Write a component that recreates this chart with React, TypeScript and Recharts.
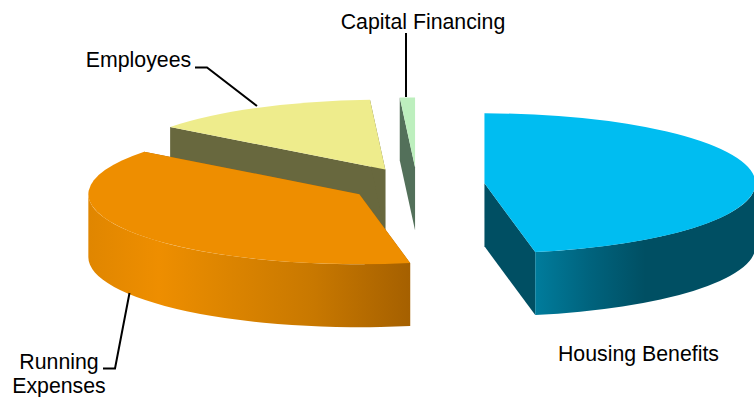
import React from 'react'
import { PieChart, Pie } from 'recharts'

const categories = ['Capital Financing', 'Employees', 'Running Expenses', 'Housing Benefits']
const shares = [0.9, 13.7, 38.4, 47]

const topColors = ['#BDEFBE', '#EEEC8C', '#EE8E00', '#00BDF1']
const sideColors = ['#53705A', '#68683E', '#A66000', '#004F63']

// outer wall shading, left to right across each visible wall
const orangeWall = [
  ['0%', '#E08600'],
  ['22%', '#EE8E00'],
  ['40%', '#DF8600'],
  ['70%', '#C87800'],
  ['100%', '#A56000'],
]
const blueWall = [
  ['0%', '#007C9C'],
  ['25%', '#00637D'],
  ['50%', '#004F63'],
  ['100%', '#004F63'],
]

// text block and leader for each slice, same order as categories
const labelLines = [['Capital Financing'], ['Employees'], ['Running', 'Expenses'], ['Housing Benefits']]
const labelX = [423, 138.5, 59, 638.5]
const labelY = [29, 67, 369, 361]
const leaders = [
  '406,33 406,97',
  '195,67.5 207,67.5 257,106',
  '103,368.5 115,368.5 129.5,293',
  '',
]

const WIDTH = 754
const HEIGHT = 397
const TILT = 70 / 271
const DEPTH = 63
const EXPLODE = 0.25
const RAD = Math.PI / 180

const pieData = categories.map((name, i) => ({ name, value: shares[i] }))

// Draws one slice as an extruded, flattened wedge pulled away from the centre
const Slice3D = (props: any) => {
  const { cx, cy, outerRadius, startAngle, endAngle, index } = props
  const t1 = 90 - Math.max(startAngle, endAngle)
  const t2 = 90 - Math.min(startAngle, endAngle)
  const mid = (t1 + t2) / 2
  const rx = outerRadius
  const ry = outerRadius * TILT
  const ax = cx + EXPLODE * rx * Math.sin(mid * RAD)
  const ay = cy - EXPLODE * ry * Math.cos(mid * RAD)
  const px = (t: number) => ax + rx * Math.sin(t * RAD)
  const py = (t: number) => ay - ry * Math.cos(t * RAD)

  const face = (t: number) =>
    `M${ax},${ay} L${px(t)},${py(t)} L${px(t)},${py(t) + DEPTH} L${ax},${ay + DEPTH} Z`
  const large = t2 - t1 > 180 ? 1 : 0
  const top = `M${ax},${ay} L${px(t1)},${py(t1)} A${rx},${ry} 0 ${large} 1 ${px(t2)},${py(t2)} Z`

  // only the part of the rim facing the viewer is visible
  const w1 = Math.max(t1, 90)
  const w2 = Math.min(t2, 270)
  const wall =
    w2 > w1
      ? `M${px(w1)},${py(w1)} A${rx},${ry} 0 0 1 ${px(w2)},${py(w2)} L${px(w2)},${py(w2) + DEPTH} A${rx},${ry} 0 0 0 ${px(w1)},${py(w1) + DEPTH} Z`
      : null

  return (
    <g>
      <path d={face(t1)} fill={sideColors[index]} />
      <path d={face(t2)} fill={sideColors[index]} />
      {wall && <path d={wall} fill={`url(#wall-${index})`} />}
      <path d={top} fill={topColors[index]} />
    </g>
  )
}

const SliceLabel = ({ index }: any) => (
  <g>
    {leaders[index] && <polyline points={leaders[index]} fill="none" stroke="#000" strokeWidth={2} />}
    <text
      x={labelX[index]}
      y={labelY[index]}
      textAnchor="middle"
      fontFamily="Liberation Sans"
      fontSize={21.3}
      fill="#000"
    >
      {labelLines[index].map((line, i) => (
        <tspan key={line} x={labelX[index]} dy={i === 0 ? 0 : 23.5}>
          {line}
        </tspan>
      ))}
    </text>
  </g>
)

const App = () => {
  return (
    <div style={{ position: 'absolute', left: 0, top: 0 }}>
      <PieChart width={WIDTH} height={HEIGHT} margin={{ top: 0, right: 0, bottom: 0, left: 0 }}>
        <defs>
          <linearGradient id="wall-2" x1="0" y1="0" x2="1" y2="0">
            {orangeWall.map(([offset, color]) => (
              <stop key={offset} offset={offset} stopColor={color} />
            ))}
          </linearGradient>
          <linearGradient id="wall-3" x1="0" y1="0" x2="1" y2="0">
            {blueWall.map(([offset, color]) => (
              <stop key={offset} offset={offset} stopColor={color} />
            ))}
          </linearGradient>
        </defs>
        <Pie
          data={pieData}
          dataKey="value"
          nameKey="name"
          cx={417}
          cy={185}
          innerRadius={0}
          outerRadius={271}
          startAngle={-270}
          endAngle={90}
          stroke="none"
          shape={Slice3D}
          label={SliceLabel}
          labelLine={false}
          isAnimationActive={false}
        />
      </PieChart>
    </div>
  )
}

export default App
